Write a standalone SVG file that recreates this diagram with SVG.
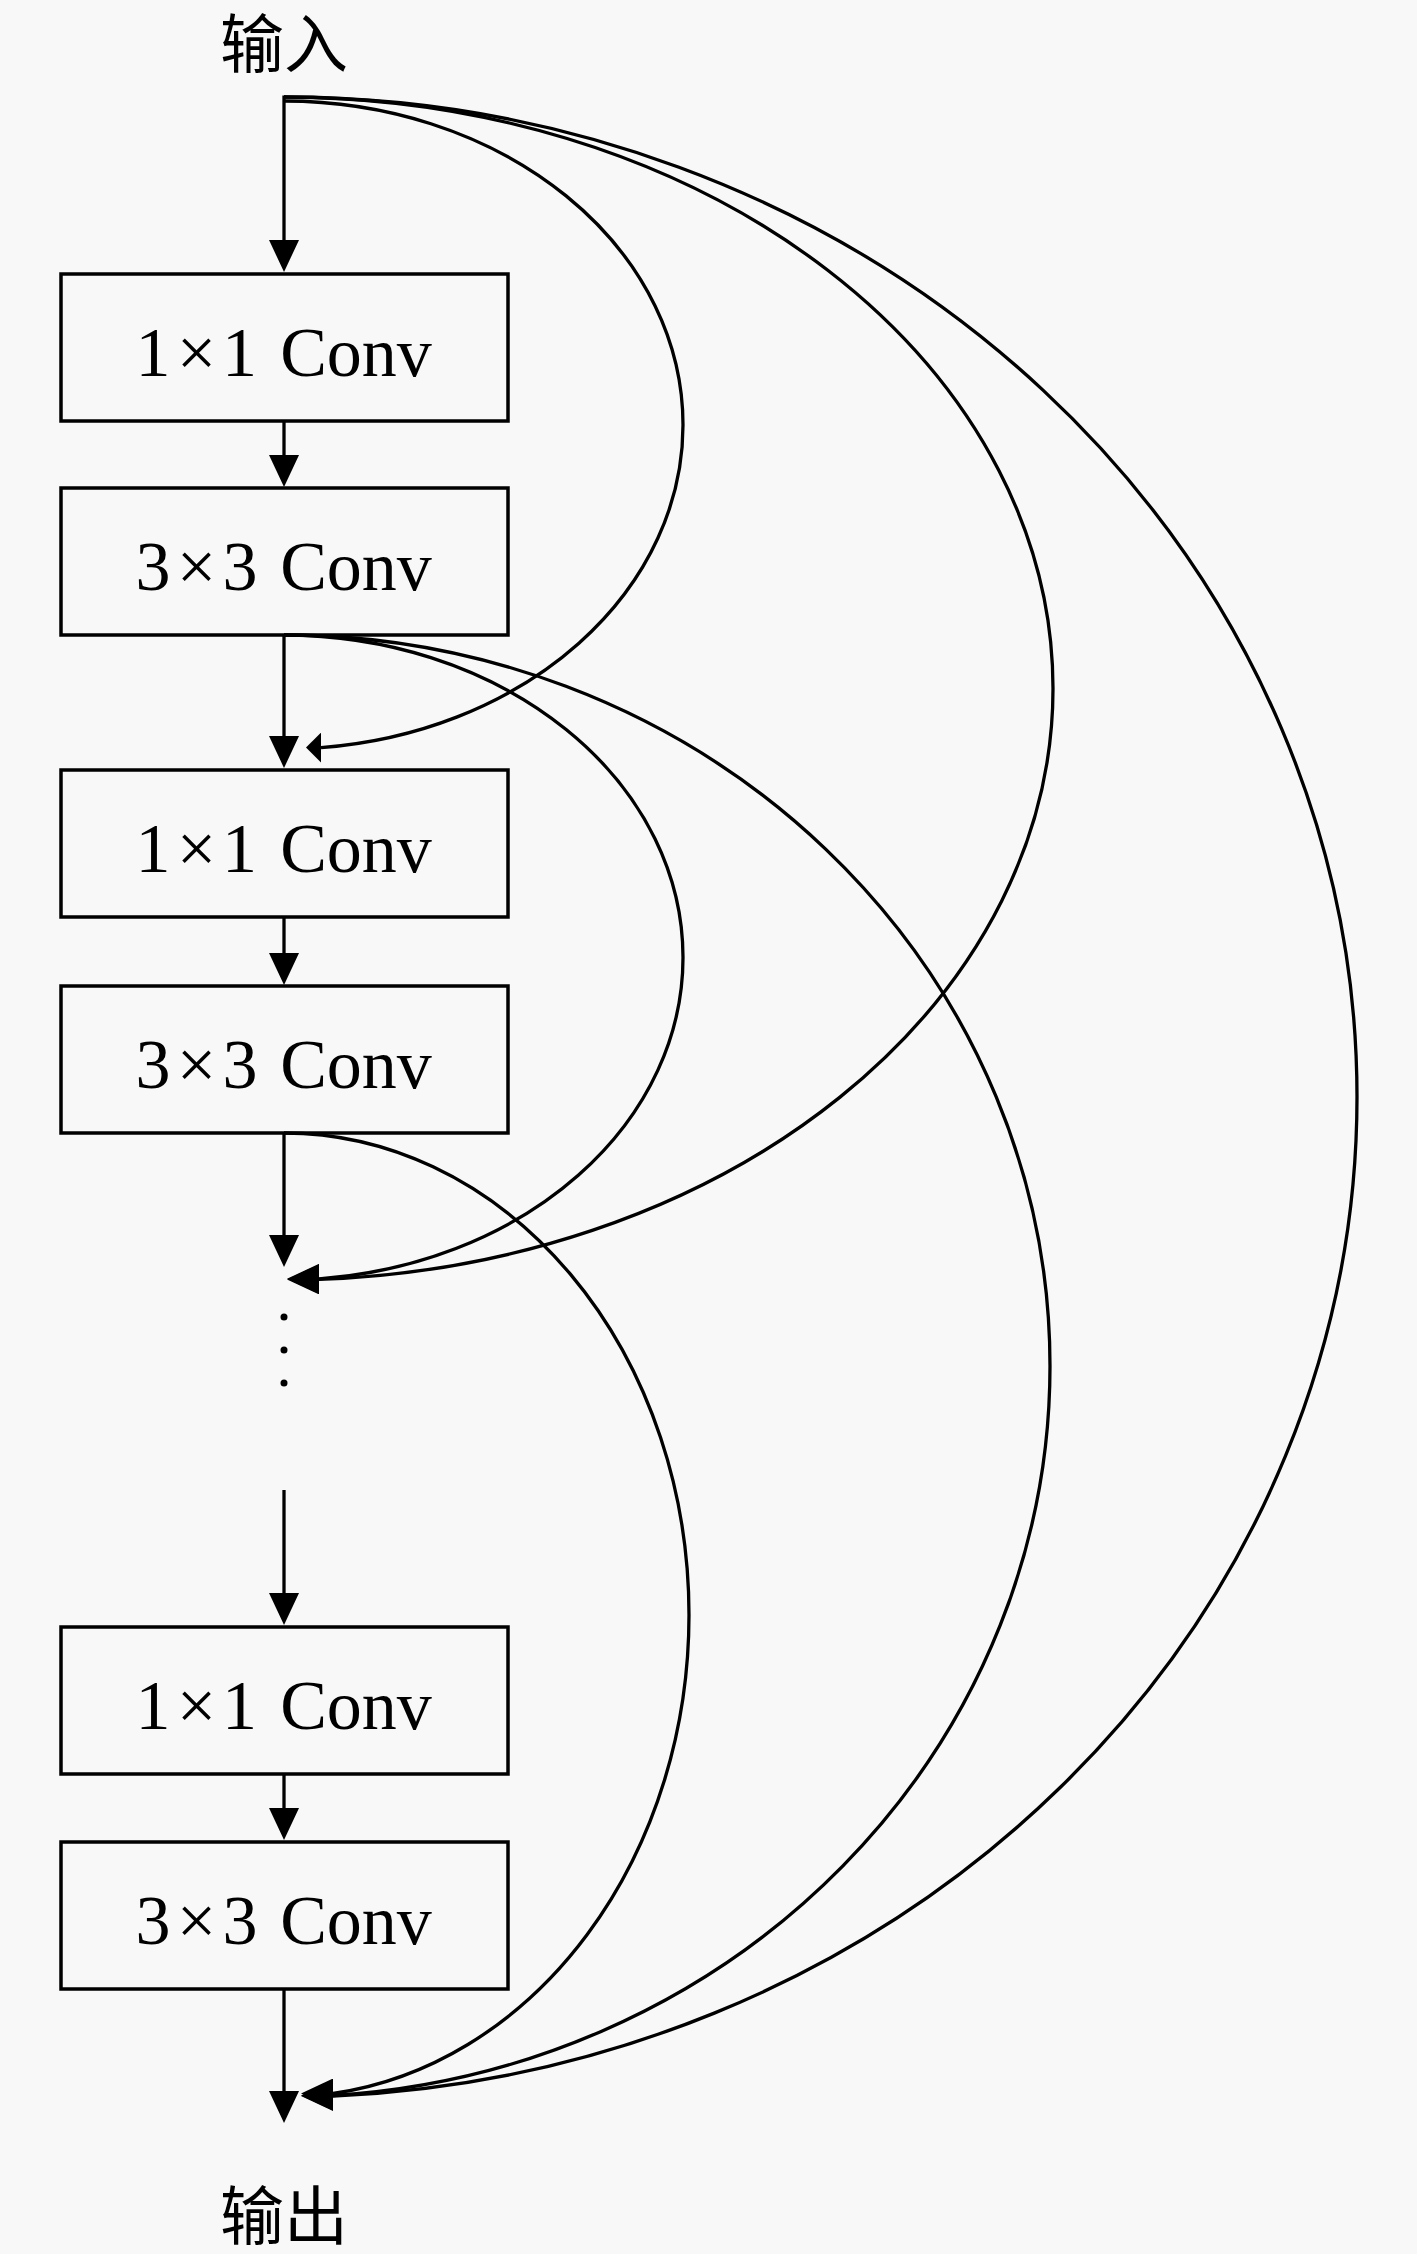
<svg xmlns="http://www.w3.org/2000/svg" width="1417" height="2254" viewBox="0 0 1417 2254">
<style>
.box{fill:none;stroke:#000;stroke-width:3.5}
.lbl{font-family:"Liberation Serif","DejaVu Serif",serif;font-size:70px;fill:#000;text-anchor:middle}
.cjk{font-family:"Noto Sans CJK SC","Noto Sans",sans-serif;font-size:64px;fill:#000;text-anchor:middle}
.ln{fill:none;stroke:#000;stroke-width:3.3}
.v{marker-end:url(#ah)}
.c{marker-end:url(#ahL)}
</style>
<defs>
<marker id="ah" viewBox="0 -15 32 30" refX="0" refY="0" markerWidth="32" markerHeight="30" markerUnits="userSpaceOnUse" orient="auto"><path d="M0,-15 L32,0 L0,15 z" fill="#000"/></marker>
<marker id="ahL" viewBox="0 -15 32 30" refX="0" refY="0" markerWidth="32" markerHeight="30" markerUnits="userSpaceOnUse" orient="180"><path d="M0,-15 L32,0 L0,15 z" fill="#000"/></marker>
<marker id="ahS" viewBox="0 -15 15 30" refX="0" refY="0" markerWidth="15" markerHeight="30" markerUnits="userSpaceOnUse" orient="180"><path d="M0,-15 L15,0 L0,15 z" fill="#000"/></marker>
</defs>
<rect x="0" y="0" width="1417" height="2254" fill="#f8f8f8"/>

<g id="input"><text class="cjk" x="284" y="67">输入</text></g>

<g id="conv1x1_a"><rect class="box" x="61" y="274" width="447" height="147"/>
<text class="lbl" y="375.5"><tspan x="153">1</tspan><tspan x="196.5">×</tspan><tspan x="239.5">1</tspan><tspan x="356">Conv</tspan></text></g>

<g id="conv3x3_a"><rect class="box" x="61" y="488" width="447" height="147"/>
<text class="lbl" y="589.5"><tspan x="153">3</tspan><tspan x="196.5">×</tspan><tspan x="240">3</tspan><tspan x="356">Conv</tspan></text></g>

<g id="conv1x1_b"><rect class="box" x="61" y="770" width="447" height="147"/>
<text class="lbl" y="871.5"><tspan x="153">1</tspan><tspan x="196.5">×</tspan><tspan x="239.5">1</tspan><tspan x="356">Conv</tspan></text></g>

<g id="conv3x3_b"><rect class="box" x="61" y="986" width="447" height="147"/>
<text class="lbl" y="1087.5"><tspan x="153">3</tspan><tspan x="196.5">×</tspan><tspan x="240">3</tspan><tspan x="356">Conv</tspan></text></g>

<g id="ellipsis"><circle cx="284" cy="1317" r="3.5" fill="#000"/><circle cx="284" cy="1350" r="3.5" fill="#000"/><circle cx="284" cy="1383" r="3.5" fill="#000"/></g>

<g id="conv1x1_c"><rect class="box" x="61" y="1627" width="447" height="147"/>
<text class="lbl" y="1728.5"><tspan x="153">1</tspan><tspan x="196.5">×</tspan><tspan x="239.5">1</tspan><tspan x="356">Conv</tspan></text></g>

<g id="conv3x3_c"><rect class="box" x="61" y="1842" width="447" height="147"/>
<text class="lbl" y="1943.5"><tspan x="153">3</tspan><tspan x="196.5">×</tspan><tspan x="240">3</tspan><tspan x="356">Conv</tspan></text></g>

<g id="output"><text class="cjk" x="284" y="2239">输出</text></g>

<g id="connectors">
<path class="ln v" d="M284,95.5 V240"/>
<path class="ln v" d="M284,421 V455"/>
<path class="ln v" d="M284,635 V736"/>
<path class="ln v" d="M284,917 V953"/>
<path class="ln v" d="M284,1133 V1235"/>
<path class="ln v" d="M284,1490 V1593"/>
<path class="ln v" d="M284,1774 V1808"/>
<path class="ln v" d="M284,1989 V2091"/>
<path class="ln" marker-end="url(#ahS)" d="M284,101 A399,324 0 0 1 683,425 A399,324 0 0 1 321,747.6"/>
<path class="ln c" d="M284,97 A769,591.5 0 0 1 1053,688.5 A769,591.5 0 0 1 319,1279.4"/>
<path class="ln c" d="M284,97 A1073,1000 0 0 1 1357,1097 A1073,1000 0 0 1 333,2096"/>
<path class="ln c" d="M284,635 A399,322.5 0 0 1 683,957.5 A399,322.5 0 0 1 319,1278.8"/>
<path class="ln c" d="M284,635 A766,731 0 0 1 1050,1366 A766,731 0 0 1 333,2095.5"/>
<path class="ln c" d="M284,1133 A405,482 0 0 1 689,1615 A405,482 0 0 1 333,2093.5"/>
</g>
</svg>
